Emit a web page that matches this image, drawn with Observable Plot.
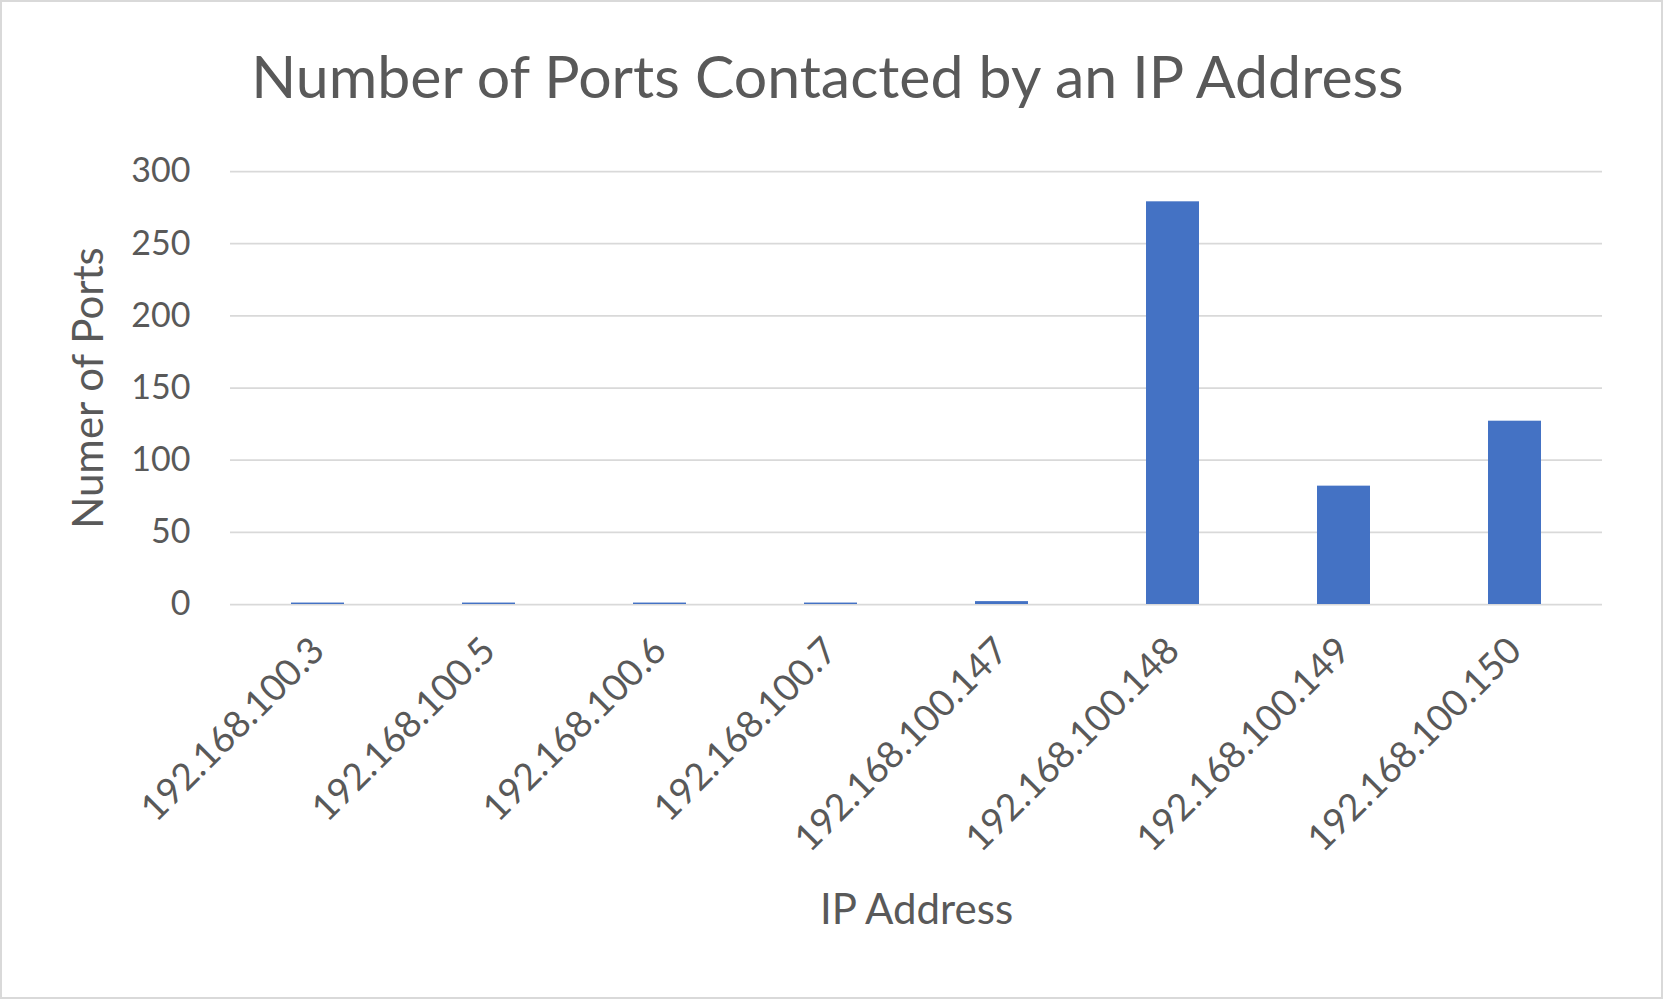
<!DOCTYPE html>
<html>
<head>
<meta charset="utf-8">
<script src="https://cdn.jsdelivr.net/npm/d3@7"></script>
<script src="https://cdn.jsdelivr.net/npm/@observablehq/plot@0.6"></script>
<style>
  html, body { margin: 0; padding: 0; background: #ffffff; }
  #chart { position: relative; width: 1663px; height: 999px; background: #ffffff; overflow: hidden; font-family: Lato, "Open Sans", sans-serif; }
  #frame { position: absolute; left: 0; top: 0; width: 1663px; height: 999px; box-sizing: border-box; border: 2px solid #d9d9d9; pointer-events: none; }
  #title { position: absolute; left: 0; top: 46px; width: 1655px; text-align: center; font-size: 59px; line-height: 1; color: #595959; white-space: nowrap; }
  #plot { position: absolute; left: 0; top: 130px; }
</style>
</head>
<body>
<div id="chart">
  <div id="title">Number of Ports Contacted by an IP Address</div>
  <div id="plot"></div>
  <div id="frame"></div>
</div>
<script>
const ipAddresses = [
  "192.168.100.3",
  "192.168.100.5",
  "192.168.100.6",
  "192.168.100.7",
  "192.168.100.147",
  "192.168.100.148",
  "192.168.100.149",
  "192.168.100.150"
];
const portCounts = [1, 1, 1, 1, 2, 279, 82, 127];
const yTicks = [0, 50, 100, 150, 200, 250, 300];
const xTitle = "IP Address";
const yTitle = "Numer of Ports";

const data = ipAddresses.map((ip, i) => ({ip, ports: portCounts[i]}));

const chart = Plot.plot({
  width: 1663,
  height: 869,
  marginLeft: 230,
  marginRight: 61,
  marginTop: 41,
  marginBottom: 395,
  style: {fontFamily: "Lato, 'Open Sans', sans-serif", color: "#595959", background: "#ffffff"},
  x: {domain: ipAddresses, paddingInner: 0.69, paddingOuter: 0.345, label: null},
  y: {domain: [0, 300], label: null},
  marks: [
    Plot.ruleY(yTicks, {stroke: "#d9d9d9", strokeWidth: 1.75}),
    Plot.barY(data, {x: "ip", y: "ports", fill: "#4472c4"}),
    Plot.axisY({ticks: yTicks, tickSize: 0, tickPadding: 40, fontSize: 34, label: null, fill: "#595959"}),
    Plot.axisX({tickSize: 0, tickPadding: 40, tickRotate: -45, fontSize: 37, label: null, fill: "#595959"}),
    Plot.text([xTitle], {frameAnchor: "bottom", dy: 306, fontSize: 42, textAnchor: "middle", lineAnchor: "middle", fill: "#595959", text: d => d}),
    Plot.text([yTitle], {frameAnchor: "left", dx: -141, rotate: -90, fontSize: 42, textAnchor: "middle", lineAnchor: "middle", fill: "#595959", text: d => d})
  ]
});
document.getElementById("plot").appendChild(chart);
</script>
</body>
</html>
